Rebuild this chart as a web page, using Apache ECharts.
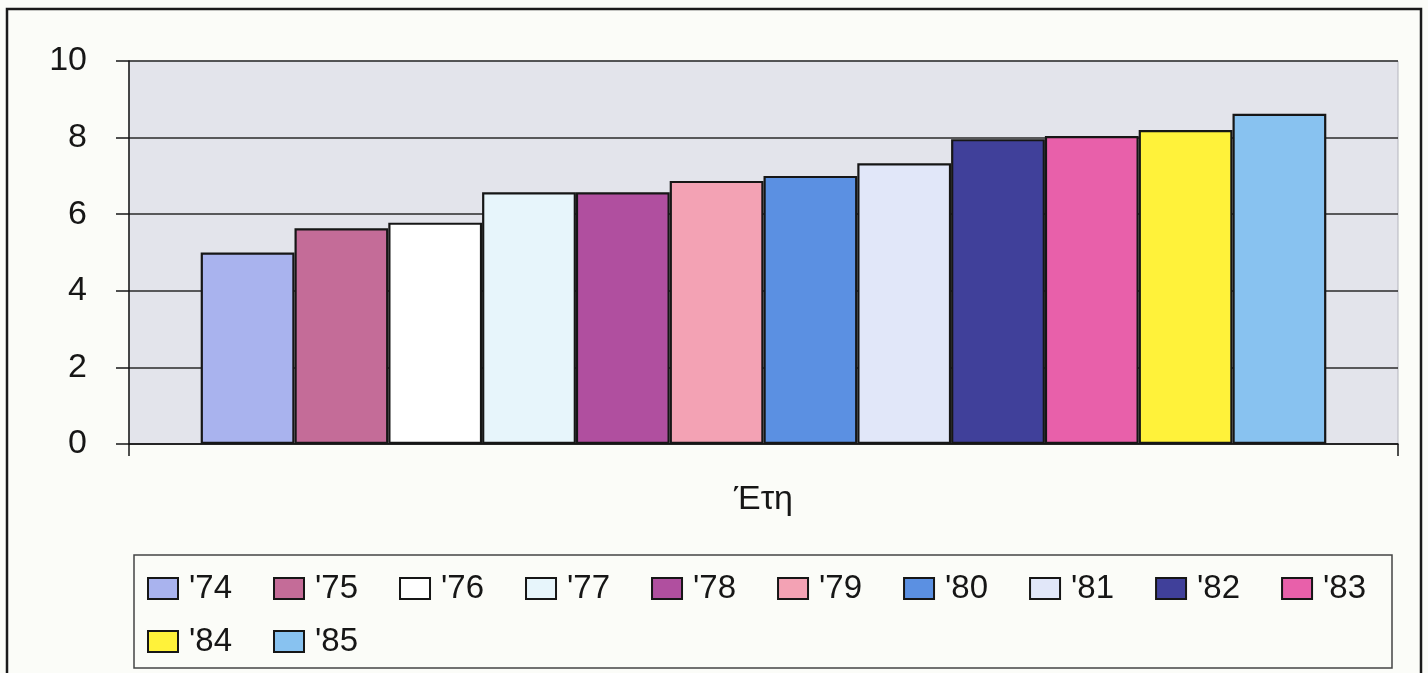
<!DOCTYPE html>
<html>
<head>
<meta charset="utf-8">
<script src="https://cdn.jsdelivr.net/npm/echarts@6/dist/echarts.min.js"></script>
<style>
  html, body { margin: 0; padding: 0; background: #fbfcf8; }
  #chart { width: 1428px; height: 673px; }
</style>
</head>
<body>
<div id="chart"></div>
<script>
// Years shown in the legend, one bar per year
const years = ["'74", "'75", "'76", "'77", "'78", "'79", "'80", "'81", "'82", "'83", "'84", "'85"];
// Value for each year
const values = [5.0, 5.63, 5.78, 6.57, 6.57, 6.87, 7.0, 7.33, 7.96, 8.04, 8.2, 8.62];
// Fill colour for each year
const colors = ['#a9b3ee', '#c46c98', '#ffffff', '#e7f5fb', '#b04f9f', '#f3a2b4',
                '#5b90e2', '#e1e7f9', '#40409a', '#e860aa', '#fff23a', '#88c2f0'];
// Y axis ticks
const yMin = 0, yMax = 10, yStep = 2;
const axisTitle = 'Έτη';

const FONT = '"Liberation Sans", Arial, sans-serif';
const INK = '#161616';

const series = years.map((y, i) => ({
  name: y,
  type: 'bar',
  data: [values[i]],
  barGap: '0%',
  barCategoryGap: '11.3%',
  itemStyle: { color: colors[i], borderColor: INK, borderWidth: 2.2 }
}));

const legendCommon = {
  orient: 'horizontal',
  padding: 0,
  itemWidth: 30,
  itemHeight: 21,
  itemGap: 41,
  icon: 'rect',
  itemStyle: { borderColor: INK, borderWidth: 2 },
  textStyle: { fontFamily: FONT, fontSize: 33, color: INK, padding: [0, 0, 0, 6] },
  selectedMode: false
};

const chart = echarts.init(document.getElementById('chart'), null, { renderer: 'canvas' });
chart.setOption({
  backgroundColor: '#fbfcf8',
  animation: false,
  color: colors,
  grid: {
    left: 129, right: 30, top: 61, bottom: 229,
    show: true, backgroundColor: '#e3e4eb', borderColor: '#b4b5bd', borderWidth: 1
  },
  xAxis: {
    type: 'category',
    data: [''],
    name: axisTitle,
    nameLocation: 'middle',
    nameGap: 39,
    nameTextStyle: { fontFamily: FONT, fontSize: 34, color: INK },
    axisLine: { show: true, lineStyle: { color: INK, width: 1.5 } },
    axisTick: { show: true, length: 12, lineStyle: { color: INK, width: 1.5 } },
    axisLabel: { show: false },
    splitLine: { show: false }
  },
  yAxis: {
    type: 'value',
    min: yMin, max: yMax, interval: yStep,
    axisLine: { show: true, lineStyle: { color: INK, width: 1.5 } },
    axisTick: { show: true, length: 13, lineStyle: { color: INK, width: 1.5 } },
    axisLabel: { margin: 42, fontFamily: FONT, fontSize: 34, color: INK },
    splitLine: { show: true, lineStyle: { color: '#2a2a2a', width: 1.5 } }
  },
  legend: [
    Object.assign({}, legendCommon, { data: years.slice(0, 10), left: 147, top: 572 }),
    Object.assign({}, legendCommon, { data: years.slice(10), left: 147, top: 625 })
  ],
  graphic: [
    { type: 'rect', silent: true, z: -1,
      shape: { x: 7, y: 9, width: 1414, height: 700 },
      style: { fill: null, stroke: '#1a1a1a', lineWidth: 2.5 } },
    { type: 'rect', silent: true,
      shape: { x: 134, y: 555, width: 1258, height: 113 },
      style: { fill: null, stroke: '#444', lineWidth: 1.5 } }
  ],
  series: series
});
</script>
</body>
</html>
